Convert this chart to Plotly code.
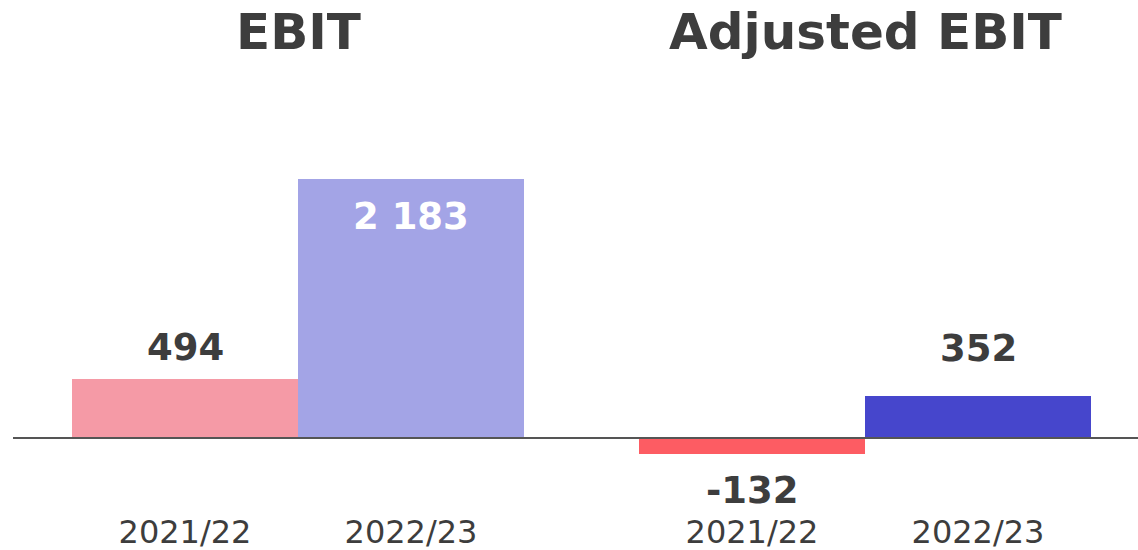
import plotly.graph_objects as go
from plotly.subplots import make_subplots

periods = ["2021/22", "2022/23"]
panel_titles = ["EBIT", "Adjusted EBIT"]
ebit = [494, 2183]
adjusted_ebit = [-132, 352]
ebit_colors = ["#f59aa6", "#a3a4e6"]
adjusted_colors = ["#fd5c63", "#4646cc"]
label_shifts_ebit = [32, -37]
label_shifts_adj = [-37, 48]
label_colors_ebit = ["#3d3d3d", "#ffffff"]
label_colors_adj = ["#3d3d3d", "#3d3d3d"]

FONT = "DejaVu Sans"
TXT = "#3d3d3d"

fig = make_subplots(rows=1, cols=2, shared_yaxes=True)

series = [
    (ebit, ebit_colors, label_shifts_ebit, label_colors_ebit),
    (adjusted_ebit, adjusted_colors, label_shifts_adj, label_colors_adj),
]

def fmt(v):
    return f"{v:,}".replace(",", " ")

for i, (vals, cols, shifts, lcols) in enumerate(series):
    c = i + 1
    fig.add_trace(go.Bar(x=periods, y=vals, marker=dict(color=cols, line=dict(width=0)),
                         showlegend=False, hoverinfo="skip"), row=1, col=c)
    xref = "x" if c == 1 else "x2"
    for p, v, s, lc in zip(periods, vals, shifts, lcols):
        fig.add_annotation(x=p, y=v, xref=xref, yref="y", text=fmt(v), showarrow=False,
                           yshift=s, yanchor="middle", xanchor="center",
                           font=dict(family=FONT, size=37, color=lc, weight="bold"))

W, H = 1138, 550
T, B = 70, 40
plot_h = H - T - B
doms = [[72 / W, 524 / W], [639 / W, 1091 / W]]
fig.update_xaxes(domain=doms[0], row=1, col=1)
fig.update_xaxes(domain=doms[1], row=1, col=2)
fig.update_xaxes(showgrid=False, zeroline=False, showline=False, ticks="", automargin=False,
                 tickfont=dict(family=FONT, size=32, color=TXT))
fig.update_yaxes(range=[-606.9, 3101.8], visible=False, showgrid=False, zeroline=False,
                 automargin=False)

for t, d in zip(panel_titles, doms):
    fig.add_annotation(x=(d[0] + d[1]) / 2, y=(H - B - 32) / plot_h, xref="paper", yref="paper",
                       text=t, showarrow=False, yanchor="middle", xanchor="center",
                       font=dict(family=FONT, size=50, color=TXT, weight="bold"))

fig.add_shape(type="line", xref="paper", yref="y", x0=13 / W, x1=1, y0=0, y1=0,
              line=dict(color="#555555", width=2), layer="above")

fig.update_layout(width=W, height=H, margin=dict(l=0, r=0, t=T, b=B),
                  bargap=0, plot_bgcolor="white", paper_bgcolor="white",
                  font=dict(family=FONT, color=TXT))

fig.write_html("out.html", config={"displayModeBar": False},
               post_script="document.body.style.margin='0';")
